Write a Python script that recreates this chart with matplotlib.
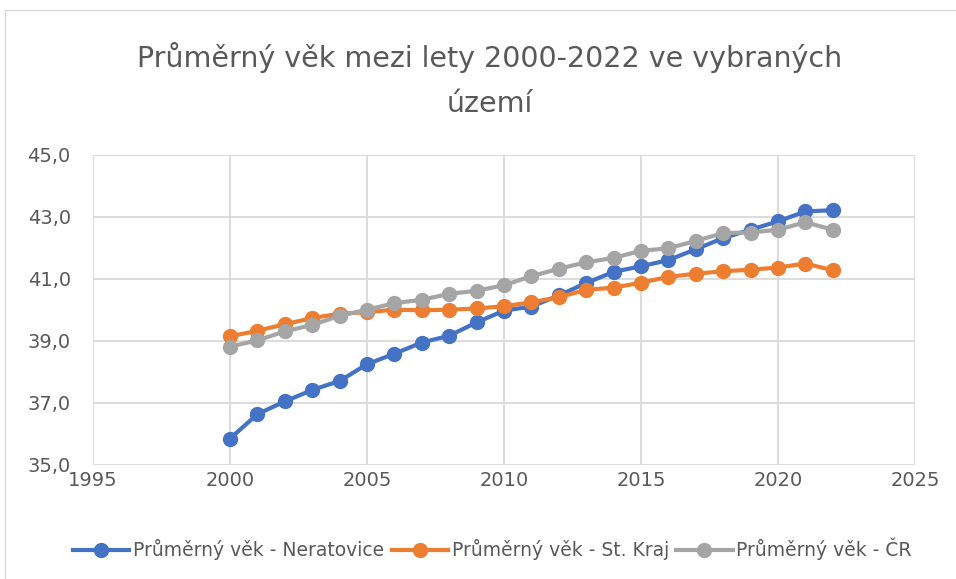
import matplotlib
matplotlib.use("Agg")

import matplotlib.pyplot as plt
from matplotlib.lines import Line2D
from matplotlib.ticker import FuncFormatter

years = list(range(2000, 2023))
neratovice = [35.85, 36.64, 37.05, 37.42, 37.71, 38.25, 38.59, 38.95, 39.17, 39.60, 39.98,
              40.11, 40.47, 40.87, 41.23, 41.41, 41.61, 41.96, 42.32, 42.59, 42.86, 43.18, 43.22]
st_kraj = [39.15, 39.33, 39.54, 39.74, 39.88, 39.93, 40.01, 39.99, 40.01, 40.05, 40.12,
           40.25, 40.41, 40.65, 40.72, 40.88, 41.07, 41.17, 41.25, 41.30, 41.37, 41.50, 41.28]
cr = [38.82, 39.02, 39.31, 39.52, 39.81, 40.01, 40.22, 40.33, 40.52, 40.62, 40.80,
      41.09, 41.33, 41.54, 41.68, 41.91, 41.99, 42.23, 42.48, 42.50, 42.59, 42.83, 42.59]

labels = ['Průměrný věk - Neratovice', 'Průměrný věk - St. Kraj', 'Průměrný věk - ČR']
colors = ['#4472C4', '#ED7D31', '#A5A5A5']
title = 'Průměrný věk mezi lety 2000-2022 ve vybraných\núzemí'

plt.rcParams['font.family'] = ['DejaVu Sans']

fig = plt.figure(figsize=(9.56, 5.79), dpi=100)
ax = fig.add_axes([93 / 956, 114 / 579, 822 / 956, 310 / 579])

for series, label, color in zip([neratovice, st_kraj, cr], labels, colors):
    ax.plot(years, series, color=color, lw=3, marker='o', markersize=10, label=label)

ax.set_xlim(1995, 2025)
ax.set_ylim(35, 45)
ax.set_xticks(range(1995, 2026, 5))
ax.set_yticks(range(35, 46, 2))
ax.yaxis.set_major_formatter(FuncFormatter(lambda v, p: f'{v:.1f}'.replace('.', ',')))
ax.grid(True, color='#D9D9D9', lw=1.3)
ax.set_axisbelow(True)
for s in ax.spines.values():
    s.set_visible(False)
ax.tick_params(length=0, labelsize=14, colors='#595959')
ax.tick_params(axis='y', pad=16)
ax.tick_params(axis='x', pad=4)

fig.text(0.512, 0.862, title, ha='center', va='center', fontsize=20.5,
         color='#595959', linespacing=1.75)

handles = [Line2D([], [], color=c, lw=3, marker='o', markersize=10) for c in colors]
fig.legend(handles, labels, loc='center', bbox_to_anchor=(0.515, 0.052), ncol=3,
           frameon=False, fontsize=13.5, labelcolor='#595959', handlelength=3,
           handletextpad=0.2, columnspacing=0.4)

# thin chart border (top and left visible in the original)
fig.add_artist(Line2D([5 / 956, 1], [1 - 10 / 579, 1 - 10 / 579], color='#D9D9D9', lw=1,
                      transform=fig.transFigure))
fig.add_artist(Line2D([5 / 956, 5 / 956], [0, 1 - 10 / 579], color='#D9D9D9', lw=1,
                      transform=fig.transFigure))

fig.savefig('out.png', dpi=100)
